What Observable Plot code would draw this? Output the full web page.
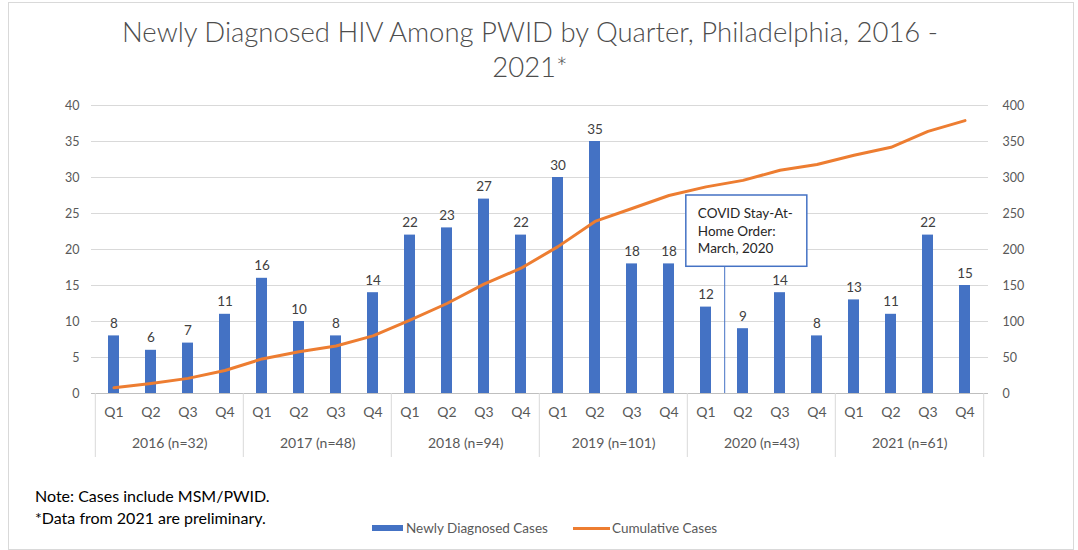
<!DOCTYPE html>
<html>
<head>
<meta charset="utf-8">
<script src="https://cdn.jsdelivr.net/npm/d3@7"></script>
<script src="https://cdn.jsdelivr.net/npm/@observablehq/plot@0.6"></script>
<style>
  body { margin: 0; background: #fff; font-family: Lato, "Open Sans", sans-serif; }
  #frame { position: absolute; left: 8px; top: 2px; width: 1066px; height: 548px; border: 1px solid #d9d9d9; box-sizing: border-box; }
  #title { position: absolute; left: 0; top: 14px; width: 1060px; text-align: center; font-size: 27.5px; font-weight: 300; line-height: 35px; color: #4d4d4d; }
  #chart { position: absolute; left: 0; top: 90px; }
  #note { position: absolute; left: 35px; top: 485px; font-size: 16px; line-height: 22px; color: #000; }
  .lg { position: absolute; top: 520px; font-size: 13.5px; line-height: 16px; color: #595959; display: flex; align-items: center; }
  .sw-bar { width: 31px; height: 6px; background: #4472C4; margin-right: 3px; }
  .sw-line { width: 37px; height: 3px; background: #ED7D31; margin-right: 2px; }
</style>
</head>
<body>
<div id="frame"></div>
<div id="title">Newly Diagnosed HIV Among PWID by Quarter, Philadelphia, 2016 -<br>2021*</div>
<div id="chart"></div>
<div id="note">Note: Cases include MSM/PWID.<br>*Data from 2021 are preliminary.</div>
<div class="lg" style="left:372px"><span class="sw-bar"></span>Newly Diagnosed Cases</div>
<div class="lg" style="left:573px"><span class="sw-line"></span>Cumulative Cases</div>
<script>
const years = ["2016", "2017", "2018", "2019", "2020", "2021"];
const yearLabels = ["2016 (n=32)", "2017 (n=48)", "2018 (n=94)", "2019 (n=101)", "2020 (n=43)", "2021 (n=61)"];
const quarters = ["Q1", "Q2", "Q3", "Q4"];
const newCases = [8, 6, 7, 11, 16, 10, 8, 14, 22, 23, 27, 22, 30, 35, 18, 18, 12, 9, 14, 8, 13, 11, 22, 15];
const cumulativeCases = [8, 14, 21, 32, 48, 58, 66, 80, 102, 125, 152, 174, 204, 239, 257, 275, 287, 296, 310, 318, 331, 342, 364, 379];
const leftTicks = [0, 5, 10, 15, 20, 25, 30, 35, 40];
const rightTicks = [0, 50, 100, 150, 200, 250, 300, 350, 400];
const axisRatio = 10; // right axis max / left axis max
const annotation = { key: "2020 Q1", top: 27.5, bottom: 17.6, lines: ["COVID Stay-At-", "Home Order:", "March, 2020"] };

const keys = years.flatMap(y => quarters.map(q => `${y} ${q}`));
const data = keys.map((k, i) => ({ key: k, quarter: k.split(" ")[1], value: newCases[i], cum: cumulativeCases[i] }));
const yearData = years.map((y, i) => ({ first: `${y} Q1`, mid: `${y} Q2`, label: yearLabels[i] }));

const W = 1078, H = 380, mt = 15, mb = 77, ml = 91, mr = 90;
const step = (W - ml - mr) / keys.length;
const plotH = H - mt - mb;
const gray = "#595959";

const chart = Plot.plot({
  width: W, height: H,
  marginTop: mt, marginBottom: mb, marginLeft: ml, marginRight: mr,
  style: { fontFamily: "Lato, 'Open Sans', sans-serif", background: "transparent" },
  x: { type: "band", domain: keys, paddingInner: 0.7, paddingOuter: 0.35, axis: null },
  y: { domain: [0, 40], axis: null },
  marks: [
    Plot.gridY(leftTicks, { stroke: "#d9d9d9", strokeOpacity: 1 }),
    Plot.axisY(leftTicks, { anchor: "left", tickSize: 0, tickPadding: 12, fontSize: 12.5, fill: gray, label: null }),
    Plot.axisY(rightTicks.map(v => v / axisRatio), { anchor: "right", tickSize: 0, tickPadding: 14, fontSize: 12.5, fill: gray, label: null, tickFormat: d => String(d * axisRatio) }),
    Plot.barY(data, { x: "key", y: "value", fill: "#4472C4" }),
    Plot.ruleY([0], { stroke: "#bfbfbf" }),
    Plot.ruleX(yearData, { x: "first", dx: -step / 2, insetTop: plotH, insetBottom: -64, stroke: "#d9d9d9" }),
    Plot.ruleX([keys[keys.length - 1]], { dx: step / 2, insetTop: plotH, insetBottom: -64, stroke: "#d9d9d9" }),
    Plot.axisX({ tickSize: 0, tickPadding: 14, fontSize: 14, fill: gray, label: null, tickFormat: k => k.split(" ")[1] }),
    Plot.text(yearData, { x: "mid", text: "label", dx: step / 2, frameAnchor: "bottom", dy: 54, fontSize: 14, fill: gray }),
    Plot.line(data, { x: "key", y: d => d.cum / axisRatio, stroke: "#ED7D31", strokeWidth: 3 }),
    Plot.text(data, { x: "key", y: "value", text: d => String(d.value), dy: -8, lineAnchor: "bottom", fontSize: 13.5, fill: "#404040" }),
    Plot.ruleX([annotation], { x: "key", dx: step / 2, y1: 0, y2: "bottom", stroke: "#4472C4", strokeWidth: 1 })
  ]
});
document.getElementById("chart").appendChild(chart);

// annotation callout box
const X = chart.scale("x"), Y = chart.scale("y");
const bw = X.bandwidth ?? step * 0.3;
const cx = X.apply(annotation.key) + bw / 2;
const bx = cx - step / 2 - 1, by = Y.apply(annotation.top), bh = Y.apply(annotation.bottom) - by;
const svg = d3.select(chart);
const g = svg.append("g");
g.append("rect").attr("x", bx).attr("y", by).attr("width", 121).attr("height", bh)
  .attr("fill", "#fff").attr("stroke", "#4472C4").attr("stroke-width", 1.5);
g.append("text").attr("x", bx + 12).attr("y", by + 23).attr("font-size", 13.5).attr("fill", "#262626")
  .attr("text-anchor", "start")
  .selectAll("tspan").data(annotation.lines).join("tspan")
  .attr("x", bx + 12).attr("dy", (d, i) => i ? 17.5 : 0).text(d => d);
</script>
</body>
</html>
